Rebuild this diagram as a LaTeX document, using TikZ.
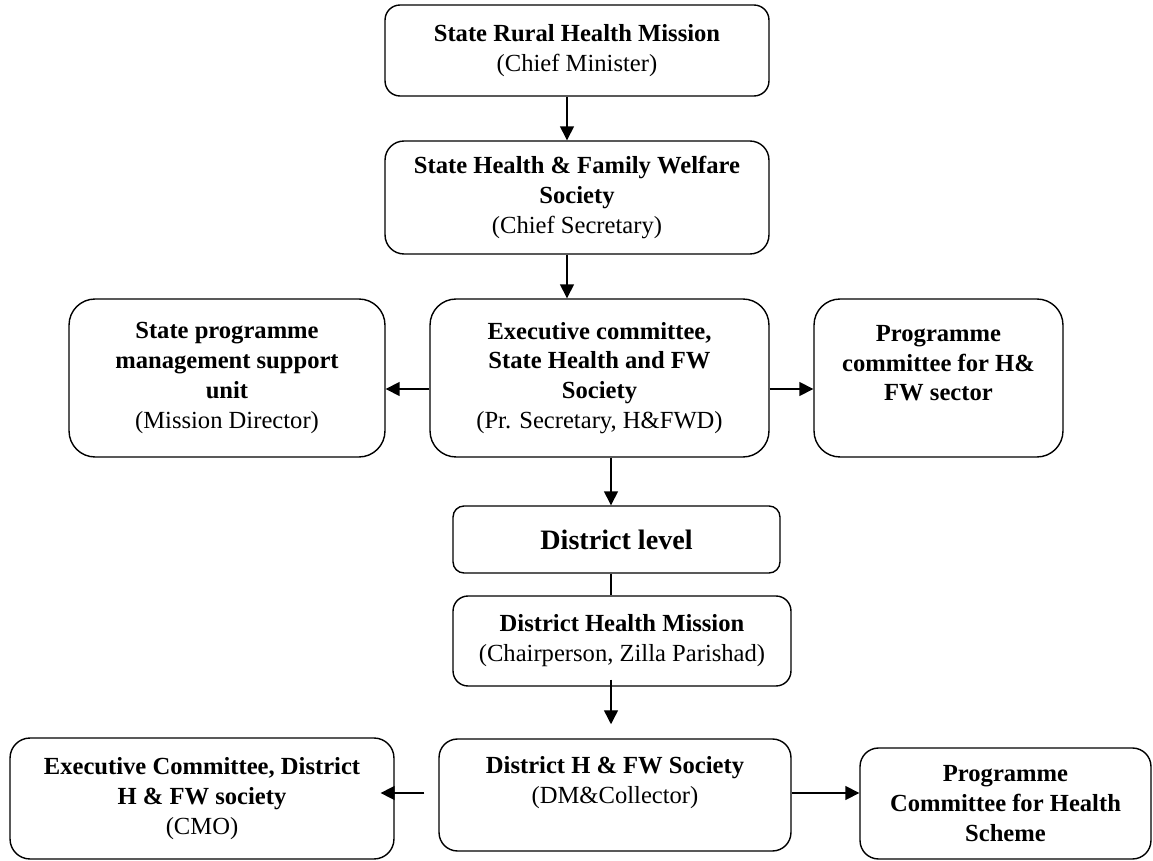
\documentclass[tikz,border=0pt]{standalone}
\usepackage{fontspec}
\setmainfont{Liberation Serif}
\usepackage{tikz}
\usetikzlibrary{arrows.meta, positioning, calc}

\begin{document}
\begin{tikzpicture}[
		x=0.02cm, y=-0.02cm, % 1 unidad = 1 pixel de la figura
		% --- Estilos ---
		caja/.style={
			draw,
			rectangle,
			rounded corners=#1,
			inner sep=0pt,
			align=center,
			line width=0.8pt,
			font=\fontsize{14}{17}\selectfont
		},
		caja/.default=0.3cm,
		flecha_principal/.style={
			-{Triangle[length=0.28cm, width=0.28cm]},
			line width=0.8pt
		},
		linea/.style={
			line width=0.8pt
		}
		]
		\useasboundingbox (0,0) rectangle (1153,861);
		
		% Columnas y filas de los conectores
		\coordinate (colA) at (567,0);
		\coordinate (colB) at (611,0);
		\coordinate (filaA) at (0,389);
		\coordinate (filaB) at (0,793);
		
		% 1. Nivel estatal
		\node[caja=0.3cm, minimum width=7.68cm, minimum height=1.82cm] (srhm) at (577,50.5)
		{\textbf{State Rural Health Mission}\\(Chief Minister)};
		\node[caja=0.38cm, minimum width=7.68cm, minimum height=2.26cm] (shfws) at (577,197.5)
		{\textbf{State Health \& Family Welfare}\\\textbf{Society}\\(Chief Secretary)};
		\node[caja=0.52cm, minimum width=6.78cm, minimum height=3.16cm] (exec) at (599.5,378)
		{\textbf{Executive committee,}\\\textbf{State Health and FW}\\\textbf{Society}\\(Pr. Secretary, H\&FWD)};
		\node[caja=0.52cm, minimum width=6.32cm, minimum height=3.16cm] (spmsu) at (227,378)
		{\textbf{State programme}\\\textbf{management support}\\\textbf{unit}\\(Mission Director)};
		\node[caja=0.52cm, minimum width=4.98cm, minimum height=3.16cm] (pchfw) at (938.5,378)
		{\textbf{Programme}\\\textbf{committee for H\&}\\\textbf{FW sector}\\ \mbox{}};
		
		% 2. Nivel distrital
		\node[caja=0.22cm, minimum width=6.54cm, minimum height=1.34cm,
			font=\fontsize{16}{19}\selectfont] (dl) at (616.5,539.5)
		{\textbf{District level}};
		\node[caja=0.3cm, minimum width=6.76cm, minimum height=1.8cm] (dhm) at (622,641)
		{\textbf{District Health Mission}\\(Chairperson, Zilla Parishad)};
		\node[caja=0.37cm, minimum width=7.04cm, minimum height=2.24cm] (dhfw) at (615,795)
		{\textbf{District H \& FW Society}\\(DM\&Collector)\\ \mbox{}};
		\node[caja=0.4cm, minimum width=7.68cm, minimum height=2.42cm] (ecd) at (202,798.5)
		{\textbf{Executive Committee, District}\\\textbf{H \& FW society}\\(CMO)};
		\node[caja=0.37cm, minimum width=5.82cm, minimum height=2.22cm] (pch) at (1005.5,803.5)
		{\textbf{Programme}\\\textbf{Committee for Health}\\\textbf{Scheme}};
		
		% 3. Conectores verticales
		\draw[flecha_principal] (srhm.south -| colA) -- (shfws.north -| colA);
		\draw[flecha_principal] (shfws.south -| colA) -- (exec.north -| colA);
		\draw[flecha_principal] (exec.south -| colB) -- (dl.north -| colB);
		\draw[linea] (dl.south -| colB) -- (dhm.north -| colB);
		\draw[flecha_principal, shorten <=-4pt, shorten >=8pt] (dhm.south -| colB) -- (dhfw.north -| colB);
		
		% 4. Conectores horizontales
		\draw[flecha_principal] (exec.west |- filaA) -- (spmsu.east |- filaA);
		\draw[flecha_principal] (exec.east |- filaA) -- (pchfw.west |- filaA);
		\draw[flecha_principal, shorten <=8pt, shorten >=-8pt] (dhfw.west |- filaB) -- (ecd.east |- filaB);
		\draw[flecha_principal] (dhfw.east |- filaB) -- (pch.west |- filaB);
		
	\end{tikzpicture}
\end{document}
